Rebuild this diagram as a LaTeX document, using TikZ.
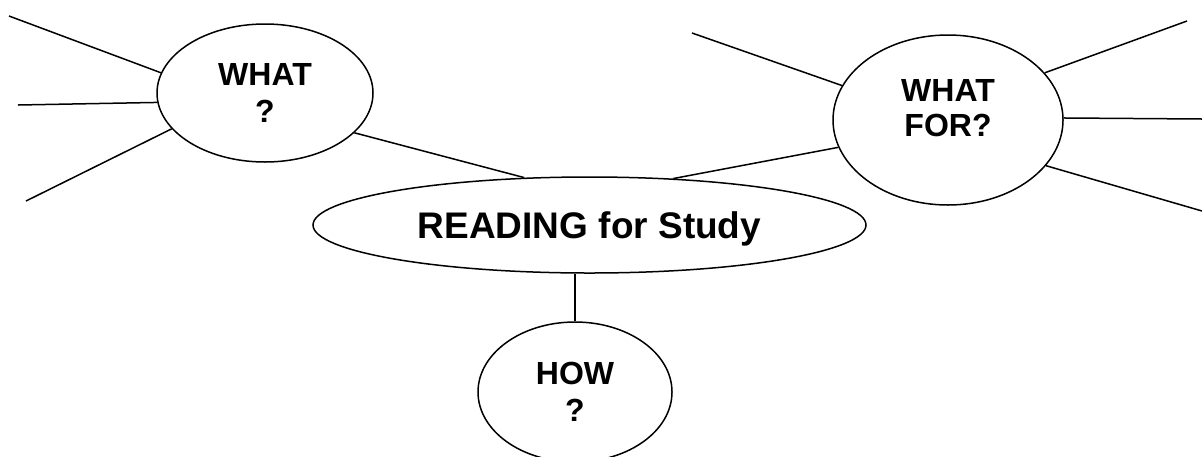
\documentclass[tikz,border=0pt]{standalone}
\usepackage{fontspec}
\setmainfont{Liberation Sans}
\usetikzlibrary{shapes,positioning}

\tikzset{
	bubble/.style={draw=black,ellipse,inner sep=0pt,line width=0.75pt,align=center,font=\bfseries\fontsize{16}{18.5}\selectfont},
	spoke/.style={draw=black,line width=0.75pt}
}

\begin{document}
\begin{tikzpicture}[x=0.5pt,y=-0.5pt]
	\clip (0,0) rectangle (1202,456);
	%% the bubbles
	\node[bubble,font=\bfseries\fontsize{18.5}{22}\selectfont,text depth=0pt,minimum width=276.5pt,minimum height=48pt] (reading) at (589.5,225) {READING for Study};
	\node[bubble,minimum width=108pt,minimum height=69pt] (what) at (265,93) {WHAT\\?};
	\node[bubble,minimum width=115pt,minimum height=85pt,
	label={[align=center,font=\bfseries\fontsize{16}{17.5}\selectfont,yshift=5.75pt]center:WHAT\\FOR?}] (whatfor) at (948,120) {};
	\node[bubble,minimum width=97pt,minimum height=70pt] (how) at (575,392) {HOW\\?};
	%% free ends of the spokes
	\coordinate (w1) at (9,16);
	\coordinate (w2) at (18,105);
	\coordinate (w3) at (26,201);
	\coordinate (f1) at (692,33);
	\coordinate (f2) at (1187,21);
	\coordinate (f3) at (1202,119);
	\coordinate (f4) at (1202,211);
	% spokes round WHAT ?
	\draw[spoke] (w1) -- (what.169.7);
	\draw[spoke] (w2) -- (what.185.1);
	\draw[spoke] (w3) -- (what.201.6);
	% spokes round WHAT FOR?
	\draw[spoke] (f1) -- (whatfor.162.7);
	\draw[spoke] (whatfor.26.6) -- (f2);
	\draw[spoke] (whatfor.1.5) -- (f3);
	\draw[spoke] (whatfor.-25.8) -- (f4);
	%% the links to READING for Study
	\draw[spoke] (what.336) -- (reading.144.2);
	\draw[spoke] (reading.29.9) -- (whatfor.194);
	\draw[spoke] (how.north) -- (how.north |- reading.south);
\end{tikzpicture}
\end{document}
